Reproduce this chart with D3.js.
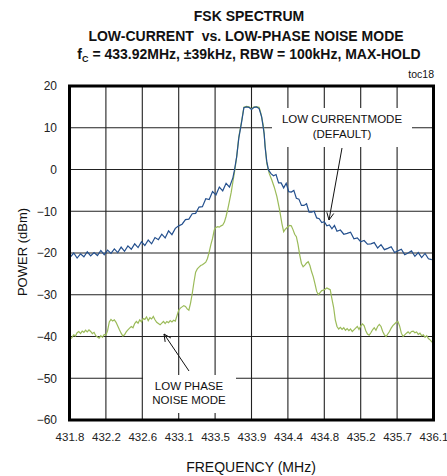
<!DOCTYPE html>
<html><head><meta charset="utf-8">
<script src="https://cdn.jsdelivr.net/npm/d3@7"></script>
<style>
body{margin:0;background:#fff;}
text{font-family:"Liberation Sans",Arial,sans-serif;}
</style></head>
<body><svg id="c" width="447" height="476"></svg>
<script>
// ---- data ----
const xTickLabels = ["431.8","432.2","432.6","433.1","433.5","433.9","434.4","434.8","435.2","435.7","436.1"];
const yTicks = [20,10,0,-10,-20,-30,-40,-50,-60];
const centerFreq = 433.92, halfSpan = 2.15;

const lowCurrentFreq = [431.78,431.82,431.86,431.90,431.94,431.98,432.02,432.06,432.10,432.14,432.18,432.22,432.26,432.30,432.34,432.38,432.42,432.46,432.50,432.54,432.58,432.62,432.66,432.70,432.74,432.78,432.82,432.86,432.90,432.94,432.98,433.02,433.06,433.10,433.14,433.18,433.22,433.26,433.30,433.34,433.38,433.42,433.46,433.50,433.54,433.58,433.62,433.66,433.70,433.72,433.745,433.77,433.80,433.83,433.86,433.89,433.92,433.95,433.98,434.01,434.04,434.07,434.08,434.10,434.12,434.15,434.18,434.21,434.24,434.27,434.30,434.33,434.36,434.39,434.42,434.45,434.48,434.51,434.54,434.57,434.60,434.63,434.66,434.69,434.72,434.75,434.78,434.81,434.84,434.87,434.90,434.93,434.97,435.01,435.05,435.09,435.13,435.17,435.21,435.25,435.29,435.33,435.37,435.41,435.45,435.49,435.53,435.57,435.61,435.65,435.69,435.73,435.77,435.81,435.85,435.89,435.93,435.97,436.01,436.05];
const lowCurrentDbm = [-21.0,-20.0,-21.2,-20.2,-20.9,-19.7,-20.7,-19.9,-20.6,-19.4,-20.4,-19.3,-20.1,-19.0,-19.9,-18.6,-19.6,-18.3,-19.1,-17.8,-18.7,-17.3,-18.2,-16.9,-17.8,-16.3,-16.8,-15.5,-16.4,-14.7,-15.6,-14.1,-13.5,-13.1,-12.0,-11.9,-10.6,-10.5,-9.0,-8.9,-7.0,-7.2,-5.3,-6.1,-4.2,-5.1,-3.3,-4.2,-2.0,0.0,3.1,7.5,11.0,14.8,15.0,14.9,14.4,14.9,15.0,14.6,12.6,8.5,5.5,2.0,-0.1,-1.0,-1.5,-1.2,-3.2,-3.2,-4.4,-3.3,-5.3,-5.4,-5.0,-6.9,-7.1,-8.6,-8.6,-8.2,-10.2,-10.2,-10.0,-11.6,-11.8,-12.7,-12.5,-13.5,-13.3,-14.2,-13.4,-14.8,-14.5,-15.5,-15.3,-15.0,-16.6,-16.4,-17.3,-17.0,-17.9,-17.8,-17.5,-18.8,-18.0,-19.2,-18.9,-18.5,-19.9,-19.5,-19.1,-20.4,-20.0,-19.5,-20.8,-19.9,-21.1,-20.1,-21.4,-21.6];

const lowPhaseFreq = [431.78,431.80,431.82,431.84,431.86,431.88,431.90,431.92,431.94,431.96,431.98,432.00,432.02,432.04,432.06,432.08,432.10,432.12,432.14,432.16,432.18,432.20,432.22,432.24,432.26,432.28,432.30,432.32,432.34,432.36,432.38,432.40,432.42,432.44,432.46,432.48,432.50,432.52,432.54,432.56,432.58,432.60,432.62,432.64,432.66,432.68,432.70,432.72,432.74,432.76,432.78,432.80,432.82,432.84,432.86,432.88,432.90,432.92,432.94,432.96,432.98,433.00,433.02,433.04,433.06,433.08,433.10,433.12,433.14,433.16,433.18,433.20,433.22,433.24,433.26,433.28,433.30,433.32,433.34,433.36,433.38,433.40,433.42,433.44,433.46,433.48,433.50,433.52,433.54,433.56,433.58,433.60,433.62,433.64,433.66,433.68,433.70,433.72,433.745,433.77,433.80,433.83,433.86,433.89,433.92,433.95,433.98,434.01,434.03,434.06,434.08,434.10,434.13,434.16,434.19,434.22,434.25,434.28,434.30,434.32,434.35,434.37,434.39,434.41,434.43,434.45,434.47,434.49,434.51,434.53,434.55,434.57,434.59,434.61,434.63,434.65,434.67,434.69,434.71,434.73,434.75,434.77,434.79,434.81,434.83,434.85,434.87,434.89,434.91,434.93,434.95,434.97,434.99,435.01,435.03,435.05,435.07,435.09,435.11,435.13,435.15,435.17,435.19,435.21,435.23,435.25,435.27,435.29,435.31,435.33,435.35,435.37,435.39,435.41,435.43,435.45,435.47,435.49,435.51,435.53,435.55,435.57,435.59,435.61,435.63,435.65,435.67,435.69,435.71,435.73,435.75,435.77,435.79,435.81,435.83,435.85,435.87,435.89,435.91,435.93,435.95,435.97,435.99,436.01,436.03,436.05,436.07];
const lowPhaseDbm = [-40.6,-40.2,-39.6,-39.9,-39.1,-38.8,-39.3,-38.7,-39.0,-38.5,-38.9,-38.4,-38.8,-39.3,-39.0,-39.8,-40.1,-40.4,-39.8,-40.2,-39.5,-39.7,-38.6,-36.5,-35.9,-36.3,-36.0,-36.6,-37.5,-38.4,-39.2,-39.9,-39.6,-38.9,-38.4,-38.0,-37.6,-37.9,-36.9,-36.4,-36.8,-36.0,-36.5,-35.7,-35.9,-35.3,-36.2,-35.5,-35.8,-35.2,-36.0,-36.6,-36.9,-37.2,-36.8,-36.4,-36.9,-36.4,-36.7,-36.2,-36.5,-36.1,-36.3,-35.0,-33.7,-33.2,-32.9,-32.6,-32.8,-33.4,-33.7,-32.0,-29.7,-27.0,-24.6,-23.8,-23.4,-23.0,-22.8,-22.5,-22.2,-21.3,-19.8,-18.0,-16.5,-14.5,-13.9,-13.7,-13.8,-13.5,-13.3,-12.6,-11.2,-9.5,-7.5,-5.5,-3.0,-0.5,3.0,7.8,11.2,14.9,15.1,15.0,14.5,15.0,15.0,14.9,13.5,10.5,6.0,1.5,-1.0,-2.5,-4.3,-6.5,-9.5,-13.0,-14.9,-14.3,-13.7,-13.4,-13.5,-14.4,-15.5,-16.1,-18.0,-20.5,-22.5,-23.3,-22.9,-22.4,-22.1,-23.0,-24.5,-25.7,-27.4,-29.2,-30.0,-29.5,-29.0,-28.9,-28.7,-28.4,-28.6,-28.8,-31.0,-33.0,-36.0,-37.6,-38.2,-37.8,-38.3,-37.9,-38.5,-38.1,-38.6,-38.2,-38.8,-38.4,-38.0,-37.6,-38.3,-37.5,-37.0,-37.4,-38.6,-39.4,-39.7,-39.1,-38.4,-37.9,-38.5,-37.6,-37.1,-37.6,-38.8,-39.6,-40.0,-39.4,-38.8,-38.0,-37.4,-37.0,-36.6,-36.4,-37.5,-39.2,-40.0,-39.6,-39.2,-38.9,-39.3,-38.8,-38.7,-39.1,-38.9,-39.5,-39.2,-39.8,-39.6,-40.2,-39.8,-40.5,-40.8,-41.3,-41.6];

const titleLines = ["FSK SPECTRUM","LOW-CURRENT  vs. LOW-PHASE NOISE MODE"];

// ---- chart ----
const svg = d3.select("#c");
const L = 69.5, R = 433.5, T = 86, B = 420;
const x = d3.scaleLinear().domain([centerFreq-halfSpan, centerFreq+halfSpan]).range([L,R]);
const y = d3.scaleLinear().domain([-60,20]).range([B,T]);
const xTickVals = xTickLabels.map((d,i)=> centerFreq-halfSpan + i*(2*halfSpan/10));

// grid
const g = svg.append("g");
g.selectAll("line.v").data(xTickVals.slice(1,-1)).join("line")
  .attr("x1",d=>x(d)).attr("x2",d=>x(d)).attr("y1",T).attr("y2",B)
  .attr("stroke","#222").attr("stroke-width",1.1);
g.selectAll("line.h").data(yTicks.slice(1,-1)).join("line")
  .attr("x1",L).attr("x2",R).attr("y1",d=>y(d)).attr("y2",d=>y(d))
  .attr("stroke","#222").attr("stroke-width",1.1);

// annotation boxes (white, hide grid)
svg.append("rect").attr("x",272).attr("y",108).attr("width",140).attr("height",39).attr("fill","#fff");
svg.append("rect").attr("x",143).attr("y",375).attr("width",93).attr("height",38).attr("fill","#fff");

// series
const line = d3.line().x(d=>x(d[0])).y(d=>y(d[1]));
svg.append("path").datum(lowPhaseFreq.map((f,i)=>[f,lowPhaseDbm[i]]))
  .attr("d",line).attr("fill","none").attr("stroke","#9bbb59").attr("stroke-width",1.2);
svg.append("path").datum(lowCurrentFreq.map((f,i)=>[f,lowCurrentDbm[i]]))
  .attr("d",line).attr("fill","none").attr("stroke","#24508e").attr("stroke-width",1.2);

// frame
svg.append("rect").attr("x",L).attr("y",T).attr("width",R-L).attr("height",B-T)
  .attr("fill","none").attr("stroke","#000").attr("stroke-width",3);

// axes tick labels
const xAxis = d3.axisBottom(x).tickValues(xTickVals).tickFormat((d,i)=>xTickLabels[i]).tickSize(0).tickPadding(0);
const xa = svg.append("g").attr("transform",`translate(0,${B})`).call(xAxis);
xa.select(".domain").remove();
xa.selectAll("text").attr("dy",null).attr("y",21).attr("font-size","11.5px").attr("fill","#222")
  .attr("font-family","Liberation Sans, Arial, sans-serif");
const yAxis = d3.axisLeft(y).tickValues(yTicks).tickSize(0).tickPadding(0);
const ya = svg.append("g").attr("transform",`translate(57,0)`).call(yAxis);
ya.select(".domain").remove();
ya.selectAll("text").attr("x",0).attr("font-size","12px").attr("fill","#222")
  .attr("font-family","Liberation Sans, Arial, sans-serif");

// axis titles
svg.append("text").attr("x",251).attr("y",472).attr("text-anchor","middle")
  .attr("font-size","14px").attr("fill","#111").text("FREQUENCY (MHz)");
svg.append("text").attr("transform","translate(27,252) rotate(-90)").attr("text-anchor","middle")
  .attr("font-size","13px").attr("fill","#111").text("POWER (dBm)");

// title
svg.append("text").attr("x",249).attr("y",21).attr("text-anchor","middle").attr("font-weight","bold")
  .attr("font-size","14px").attr("fill","#111").text(titleLines[0]);
svg.append("text").attr("x",246).attr("y",41).attr("text-anchor","middle").attr("font-weight","bold")
  .attr("font-size","14px").attr("fill","#111").attr("xml:space","preserve").style("white-space","pre").text(titleLines[1]);
const t3 = svg.append("text").attr("x",249).attr("y",59).attr("text-anchor","middle").attr("font-weight","bold")
  .attr("font-size","14px").attr("fill","#111");
t3.append("tspan").text("f");
t3.append("tspan").attr("font-size","9px").attr("dy",3).text("C");
t3.append("tspan").attr("dy",-3).text(" = 433.92MHz, \u00b139kHz, RBW = 100kHz, MAX-HOLD");
svg.append("text").attr("x",434).attr("y",78).attr("text-anchor","end")
  .attr("font-size","10.5px").attr("fill","#111").text("toc18");

// annotations
const ann = svg.append("g").attr("font-size","11.5px").attr("fill","#111").attr("text-anchor","middle");
ann.append("text").attr("x",342).attr("y",123).text("LOW CURRENTMODE");
ann.append("text").attr("x",342).attr("y",138).text("(DEFAULT)");
ann.append("text").attr("x",189).attr("y",390).text("LOW PHASE");
ann.append("text").attr("x",189).attr("y",404).text("NOISE MODE");

function arrow(x1,y1,x2,y2){
  svg.append("line").attr("x1",x1).attr("y1",y1).attr("x2",x2).attr("y2",y2).attr("stroke","#111").attr("stroke-width",1);
  const a = Math.atan2(y2-y1,x2-x1), len=8, sp=0.45;
  const p = [[x2-len*Math.cos(a-sp),y2-len*Math.sin(a-sp)],[x2,y2],[x2-len*Math.cos(a+sp),y2-len*Math.sin(a+sp)]];
  svg.append("path").attr("d",d3.line()(p)).attr("fill","none").attr("stroke","#111").attr("stroke-width",1);
}
arrow(342,148,329,220);
arrow(189,371,164,334);
</script></body></html>
